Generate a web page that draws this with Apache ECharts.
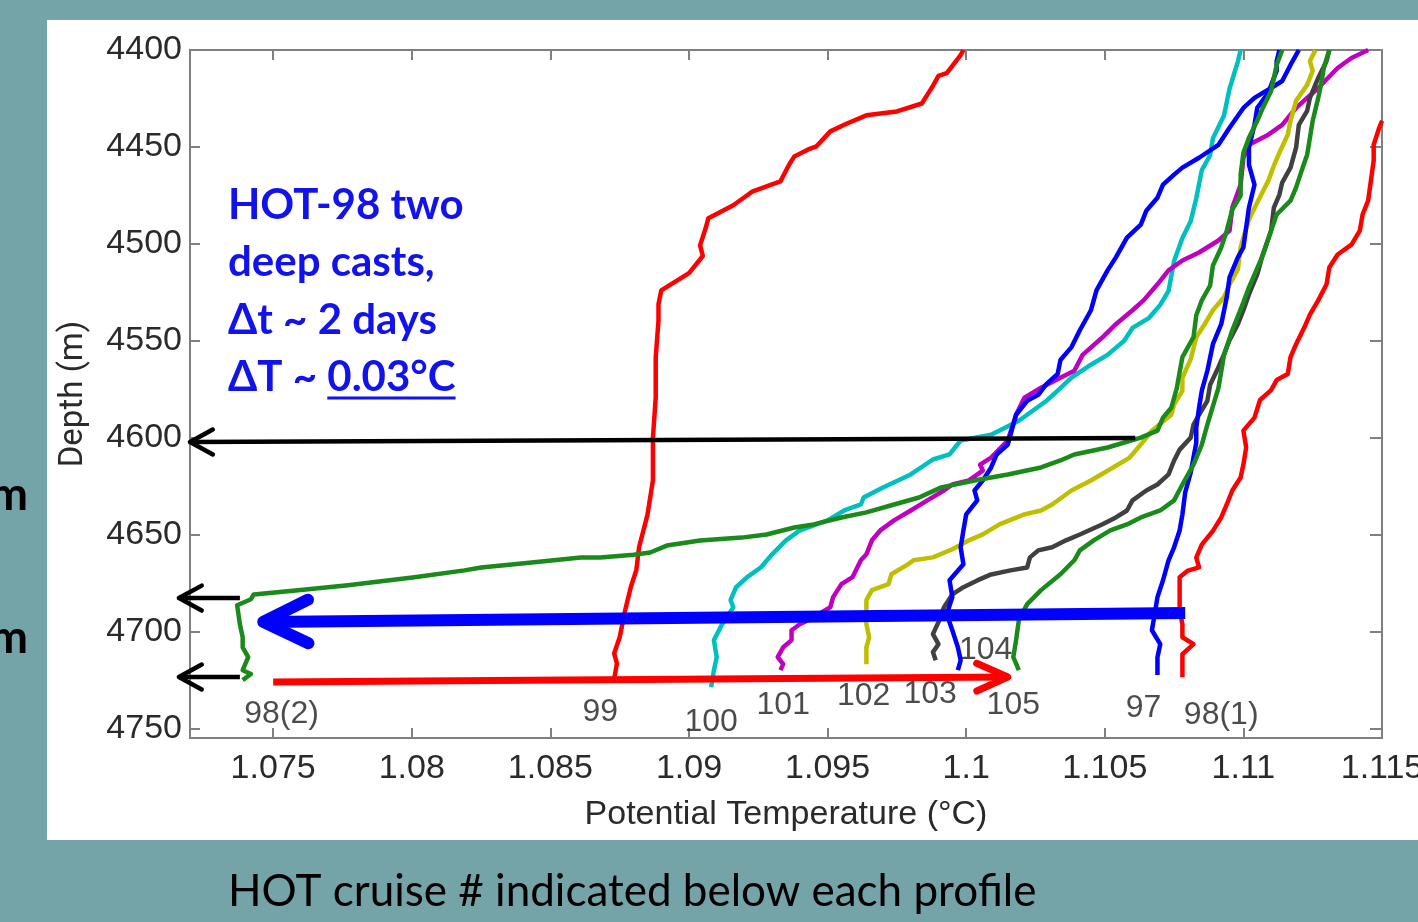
<!DOCTYPE html>
<html>
<head>
<meta charset="utf-8">
<script src="https://cdn.jsdelivr.net/npm/echarts@6/dist/echarts.min.js"></script>
<style>
  html, body { margin: 0; padding: 0; background: #74A3A8; overflow: hidden; }
  #chart { width: 1418px; height: 922px; }
</style>
</head>
<body>
<div id="chart"></div>
<script>
// Axis ticks
const depthTicks = [4400, 4450, 4500, 4550, 4600, 4650, 4700, 4750];
const tempTicks = [1.075, 1.08, 1.085, 1.09, 1.095, 1.1, 1.105, 1.11, 1.115];

// Potential temperature (deg C) vs depth (m), one array per HOT cruise cast
const cast97 = [[1.1113,4400],[1.1112,4405.7],[1.1112,4410.8],[1.1111,4414.4],[1.1109,4422.1],[1.1105,4429.9],[1.1104,4438.6],[1.1102,4450.4],[1.1102,4459.2],[1.1104,4469.5],[1.1102,4481.3],[1.1101,4491.6],[1.1100,4501.9],[1.1098,4507],[1.1095,4517.3],[1.1094,4527.6],[1.1092,4541.5],[1.1089,4551.8],[1.1087,4565.5],[1.1085,4575.8],[1.1084,4584.6],[1.1083,4594.9],[1.1083,4602.6],[1.1082,4610.3],[1.1081,4618],[1.1079,4628.3],[1.1078,4639.6],[1.1077,4647.9],[1.1075,4656.6],[1.1073,4663.3],[1.1071,4673.6],[1.1069,4682.3],[1.1068,4691.1],[1.1067,4699.4],[1.1070,4706.6],[1.1069,4713.3],[1.1069,4722.5]];

const cast98a = [[1.1150,4436.5],[1.1149,4440.1],[1.1147,4448.9],[1.1147,4457.1],[1.1146,4467.4],[1.1145,4477.7],[1.1143,4484.9],[1.1142,4493.2],[1.1139,4500.4],[1.1134,4505.5],[1.1131,4512.2],[1.1130,4520.9],[1.1127,4529.2],[1.1124,4536.5],[1.1122,4543.1],[1.1119,4551.8],[1.1117,4558.5],[1.1116,4567.2],[1.1112,4570.3],[1.1110,4575.5],[1.1106,4580.6],[1.1104,4589.7],[1.1100,4596.4],[1.1101,4605.1],[1.1100,4613.9],[1.1099,4620.6],[1.1096,4627.3],[1.1094,4634.5],[1.1092,4641.2],[1.1089,4648.1],[1.1085,4655.2],[1.1083,4661.9],[1.1084,4667],[1.1080,4668.6],[1.1077,4672.1],[1.1077,4682.3],[1.1077,4689],[1.1078,4696.3],[1.1078,4703],[1.1082,4706.6],[1.1078,4711.8],[1.1078,4716.9],[1.1078,4723.6]];

const cast98b = [[1.1114,4400],[1.1112,4407.7],[1.1111,4414.4],[1.1110,4421.1],[1.1107,4429.9],[1.1105,4436.5],[1.1102,4445.3],[1.1100,4453],[1.1099,4464.3],[1.1099,4475.1],[1.1096,4482.3],[1.1094,4493.2],[1.1092,4501.9],[1.1089,4511.2],[1.1088,4521.5],[1.1085,4529.2],[1.1083,4536.9],[1.1082,4548.2],[1.1078,4558.5],[1.1077,4566.2],[1.1076,4574.3],[1.1074,4584.6],[1.1071,4589.7],[1.1069,4596.4],[1.1063,4600],[1.1051,4605.1],[1.1039,4608.7],[1.1034,4611.8],[1.1027,4615.4],[1.1015,4619],[1.1003,4622.1],[1.0991,4625.7],[1.0983,4630.9],[1.0974,4634.5],[1.0964,4638.6],[1.0955,4641.2],[1.0945,4644.8],[1.0938,4646.4],[1.0928,4650],[1.0919,4651.6],[1.0904,4653.1],[1.0892,4655.7],[1.0886,4659.3],[1.0880,4660.4],[1.0868,4661.9],[1.0861,4661.9],[1.0837,4665.4],[1.0825,4667],[1.0819,4668.5],[1.0801,4672.1],[1.0777,4676.2],[1.0759,4678.8],[1.0743,4680.9],[1.0742,4683.4],[1.0737,4686.5],[1.0738,4696.3],[1.0739,4703],[1.0739,4708.2],[1.0741,4713.3],[1.0739,4720],[1.0742,4722],[1.0739,4725.1]];

const cast99 = [[1.0999,4400],[1.0998,4402.6],[1.0993,4411.9],[1.0990,4413.4],[1.0988,4418.5],[1.0984,4427.6],[1.0975,4431.7],[1.0964,4433.7],[1.0957,4437.9],[1.0951,4442],[1.0946,4449.7],[1.0943,4451.3],[1.0938,4454.9],[1.0936,4459.5],[1.0933,4467.8],[1.0923,4472.9],[1.0916,4480.1],[1.0907,4486.8],[1.0906,4492],[1.0904,4500.8],[1.0905,4506.3],[1.0900,4515.1],[1.0890,4524],[1.0889,4531.2],[1.0889,4539.5],[1.0888,4558.8],[1.0888,4579.4],[1.0887,4600],[1.0887,4622],[1.0885,4640],[1.0882,4656.6],[1.0881,4668.4],[1.0879,4677.2],[1.0877,4689],[1.0875,4703],[1.0873,4711.4],[1.0874,4716.5],[1.0873,4724.8]];

const cast100 = [[1.1099,4400],[1.1098,4406],[1.1095,4420],[1.1093,4433.8],[1.1089,4445.6],[1.1088,4454.3],[1.1085,4462],[1.1083,4476.5],[1.1081,4488.3],[1.1078,4497],[1.1075,4508.9],[1.1073,4524.3],[1.1070,4531.5],[1.1066,4538.2],[1.1060,4543.4],[1.1057,4550],[1.1051,4557.3],[1.1045,4562.4],[1.1038,4569.1],[1.1033,4575.8],[1.1029,4581],[1.1019,4591.3],[1.1009,4598.5],[1.0998,4601.5],[1.0994,4608.7],[1.0988,4611.3],[1.0980,4619],[1.0970,4625.7],[1.0963,4630.9],[1.0962,4634.5],[1.0956,4637.6],[1.0950,4642.7],[1.0940,4647.9],[1.0935,4653],[1.0930,4660.2],[1.0926,4666.9],[1.0921,4672],[1.0917,4677.2],[1.0915,4683.9],[1.0916,4687.5],[1.0912,4696.2],[1.0909,4704.5],[1.0910,4713.3],[1.0909,4720],[1.0908,4728.7]];

const cast101 = [[1.1145,4400],[1.1139,4404.1],[1.1134,4409.3],[1.1127,4419.6],[1.1119,4429.9],[1.1114,4438.6],[1.1109,4443.7],[1.1102,4448.9],[1.1100,4455.6],[1.1099,4469.5],[1.1096,4481.3],[1.1095,4493.2],[1.1091,4498.3],[1.1084,4504.5],[1.1078,4508.6],[1.1073,4513.7],[1.1069,4520.9],[1.1064,4529.2],[1.1060,4534.3],[1.1054,4541.5],[1.1049,4548.5],[1.1042,4557.3],[1.1039,4565.5],[1.1034,4569.1],[1.1027,4574.3],[1.1021,4579.4],[1.1018,4588.2],[1.1015,4601.5],[1.1009,4610.3],[1.1005,4613.9],[1.1006,4617],[1.1001,4622.1],[1.0995,4624.2],[1.0992,4627.3],[1.0986,4632.4],[1.0980,4637.6],[1.0974,4642.7],[1.0969,4647.9],[1.0966,4653],[1.0964,4660.2],[1.0962,4663.3],[1.0959,4672],[1.0955,4675.6],[1.0952,4682.3],[1.0951,4687.5],[1.0945,4692.7],[1.0940,4696.3],[1.0937,4699.4],[1.0937,4704.6],[1.0934,4708.2],[1.0932,4713.3],[1.0934,4716.9],[1.0933,4720]];

const cast102 = [[1.1126,4400],[1.1124,4405.7],[1.1125,4410.8],[1.1123,4418],[1.1119,4426.2],[1.1117,4436.5],[1.1116,4443.7],[1.1113,4453],[1.1111,4459.7],[1.1109,4467.4],[1.1105,4478.7],[1.1102,4487.5],[1.1100,4496.8],[1.1099,4501.9],[1.1098,4513.2],[1.1095,4520.9],[1.1093,4527.6],[1.1089,4534.3],[1.1086,4541.5],[1.1083,4548.2],[1.1081,4559.5],[1.1078,4569.1],[1.1078,4575.8],[1.1075,4583],[1.1074,4588.2],[1.1067,4596.4],[1.1063,4603.6],[1.1059,4610.3],[1.1053,4615.4],[1.1045,4622.1],[1.1038,4627.3],[1.1031,4634.5],[1.1027,4637.6],[1.1021,4639.6],[1.1012,4644.8],[1.1006,4649.9],[1.1001,4653],[1.0995,4657.6],[1.0988,4661.8],[1.0981,4663.3],[1.0979,4665.4],[1.0973,4670.5],[1.0972,4675.6],[1.0966,4678.7],[1.0964,4683.9],[1.0964,4696.3],[1.0965,4703],[1.0964,4708.2],[1.0964,4716.9]];

const cast103 = [[1.1131,4400],[1.1130,4405.7],[1.1127,4414.4],[1.1124,4424.7],[1.1123,4431.4],[1.1120,4438.6],[1.1119,4450.4],[1.1117,4460.7],[1.1114,4468.4],[1.1113,4474.6],[1.1111,4481.3],[1.1110,4493.2],[1.1107,4505.5],[1.1105,4515.8],[1.1102,4526.1],[1.1100,4534.3],[1.1098,4541.5],[1.1095,4549.7],[1.1093,4557],[1.1091,4563.7],[1.1088,4572.7],[1.1087,4581],[1.1084,4588.2],[1.1082,4593.3],[1.1081,4600],[1.1077,4606.2],[1.1075,4611.8],[1.1073,4619],[1.1069,4624.2],[1.1065,4627.3],[1.1060,4632.4],[1.1058,4637.6],[1.1054,4641.2],[1.1049,4644.8],[1.1041,4650],[1.1036,4653],[1.1031,4656.6],[1.1026,4658.2],[1.1023,4661.8],[1.1022,4667],[1.1016,4668.5],[1.1009,4670.6],[1.1004,4673.7],[1.0999,4677.2],[1.0995,4680.9],[1.0992,4687.5],[1.0990,4695.2],[1.0988,4701.4],[1.0990,4706.6],[1.0988,4710.7],[1.0989,4714.9]];

const cast104 = [[1.1120,4400],[1.1117,4407.7],[1.1114,4416],[1.1110,4419.6],[1.1104,4424.7],[1.1100,4429.9],[1.1095,4440.1],[1.1091,4448.9],[1.1084,4455.6],[1.1078,4460.7],[1.1075,4464.3],[1.1071,4469.5],[1.1069,4476.2],[1.1065,4482.9],[1.1063,4490.1],[1.1058,4496.8],[1.1054,4507],[1.1051,4513.7],[1.1047,4524],[1.1045,4534.3],[1.1041,4544.6],[1.1038,4553.3],[1.1034,4560],[1.1033,4567.2],[1.1029,4572.3],[1.1026,4577.9],[1.1022,4581],[1.1018,4588.2],[1.1016,4598.5],[1.1015,4603.6],[1.1011,4608.7],[1.1009,4615.4],[1.1006,4622.1],[1.1003,4627.3],[1.1004,4632.4],[1.1000,4639.6],[1.0999,4647.9],[1.0998,4656.6],[1.0999,4665.4],[1.0994,4673.6],[1.0995,4682.3],[1.0993,4691.1],[1.0995,4699.4],[1.0997,4708.2],[1.0998,4714.9],[1.0997,4720]];

const cast105 = [[1.1131,4400],[1.1129,4409.3],[1.1128,4418],[1.1127,4424.7],[1.1125,4436.5],[1.1124,4445.3],[1.1123,4454],[1.1121,4462.3],[1.1119,4471],[1.1117,4477.7],[1.1112,4484.9],[1.1110,4493.2],[1.1107,4506],[1.1102,4522.5],[1.1100,4530.2],[1.1096,4544.6],[1.1093,4557.5],[1.1091,4574.3],[1.1087,4593.3],[1.1085,4603.6],[1.1082,4613.9],[1.1078,4624.2],[1.1075,4632.4],[1.1070,4637.6],[1.1063,4641.2],[1.1058,4644.8],[1.1052,4647.9],[1.1046,4653],[1.1041,4658.2],[1.1039,4663.3],[1.1034,4670.5],[1.1027,4678.7],[1.1022,4685.9],[1.1019,4694.1],[1.1018,4704.5],[1.1017,4713.3],[1.1019,4720]];

// Cruise labels placed under each profile
const cruiseNames = ['98(2)', '99', '100', '101', '102', '103', '104', '105', '97', '98(1)'];
const cruiseLabelAt = [[1.0753,4742.6],[1.0868,4741.6],[1.0908,4746.7],[1.0934,4738],[1.0963,4733.3],[1.0987,4732.3],[1.1007,4709.6],[1.1017,4738],[1.1064,4739.5],[1.1092,4743.1]];

// Arrows: [fromTemp, fromDepth, toTemp, toDepth] (head at the "to" end)
const arrowTo4600 = [[1.1061, 4600.2, 1.0720, 4602.3]];
const arrowsBottom = [[1.0738, 4682.8, 1.0716, 4682.8], [1.0738, 4723.5, 1.0716, 4723.5]];
const arrowCast1 = [[1.1079, 4690.5, 1.07464, 4695.1]];
const arrowCast2 = [[1.0750, 4726.1, 1.1015, 4723.5]];

const chart = echarts.init(document.getElementById('chart'), null, { renderer: 'canvas' });

const tickFont = 'Liberation Sans';

function profile(name, data, color) {
  return {
    type: 'line', name, data, symbol: 'none', showSymbol: false,
    lineStyle: { color, width: 4.5, join: 'round' }, z: 2, silent: true
  };
}

function arrow(data, color, width, headLen, spread) {
  return {
    type: 'custom', data, z: 5, silent: true, clip: false,
    renderItem(params, api) {
      const p1 = api.coord([api.value(0), api.value(1)]);
      const p2 = api.coord([api.value(2), api.value(3)]);
      const ang = Math.atan2(p2[1] - p1[1], p2[0] - p1[0]);
      const a1 = [p2[0] - headLen * Math.cos(ang - spread), p2[1] - headLen * Math.sin(ang - spread)];
      const a2 = [p2[0] - headLen * Math.cos(ang + spread), p2[1] - headLen * Math.sin(ang + spread)];
      return {
        type: 'group',
        children: [
          { type: 'line', shape: { x1: p1[0], y1: p1[1], x2: p2[0], y2: p2[1] },
            style: { stroke: color, lineWidth: width, lineCap: 'butt' } },
          { type: 'polyline', shape: { points: [a1, p2, a2] },
            style: { stroke: color, lineWidth: width, fill: null, lineCap: 'round', lineJoin: 'round' } }
        ]
      };
    }
  };
}

const fmtTemp = v => String(+(+v).toFixed(3));
const fmtDepth = v => String(Math.round(v));

// Width of the first part of the last note line, for the underline
const noteFont = 'bold 42px Lato';
const ctx = document.createElement('canvas').getContext('2d');
ctx.font = noteFont;
const preW = ctx.measureText('ΔT ~ ').width;
const numW = ctx.measureText('0.03°C').width;
const noteX = 228;
const noteColor = '#1212EC';

const option = {
  backgroundColor: '#74A3A8',
  animation: false,
  grid: { left: 190, right: 36, top: 50, bottom: 184, containLabel: false, outerBoundsMode: 'none' },
  xAxis: [
    {
      type: 'value', position: 'bottom', min: 1.072, max: 1.115,
      name: 'Potential Temperature (°C)', nameLocation: 'middle', nameGap: 60,
      nameTextStyle: { fontFamily: tickFont, fontSize: 34, color: '#2a2a2a' },
      axisLine: { show: true, onZero: false, lineStyle: { color: '#808080', width: 2 } },
      axisTick: { show: true, inside: true, length: 10, customValues: tempTicks, lineStyle: { color: '#808080', width: 2 } },
      axisLabel: { show: true, customValues: tempTicks, formatter: fmtTemp, margin: 14, hideOverlap: false,
        fontFamily: tickFont, fontSize: 34, color: '#2a2a2a' },
      splitLine: { show: false }
    },
    {
      type: 'value', position: 'top', min: 1.072, max: 1.115,
      axisLine: { show: true, onZero: false, lineStyle: { color: '#808080', width: 2 } },
      axisTick: { show: true, inside: true, length: 10, customValues: tempTicks, lineStyle: { color: '#808080', width: 2 } },
      axisLabel: { show: false },
      splitLine: { show: false }
    }
  ],
  yAxis: [
    {
      type: 'value', position: 'left', inverse: true, min: 4400, max: 4755,
      name: 'Depth (m)', nameLocation: 'middle', nameGap: 100, nameRotate: 90,
      nameTextStyle: { fontFamily: 'Roboto', fontSize: 33, color: '#2a2a2a' },
      axisLine: { show: true, onZero: false, lineStyle: { color: '#808080', width: 2 } },
      axisTick: { show: true, inside: true, length: 10, customValues: depthTicks, lineStyle: { color: '#808080', width: 2 } },
      axisLabel: { show: true, customValues: depthTicks, formatter: fmtDepth, margin: 8,
        fontFamily: tickFont, fontSize: 34, color: '#2a2a2a' },
      splitLine: { show: false }
    },
    {
      type: 'value', position: 'right', inverse: true, min: 4400, max: 4755,
      axisLine: { show: true, onZero: false, lineStyle: { color: '#808080', width: 2 } },
      axisTick: { show: true, inside: true, length: 12, customValues: depthTicks, lineStyle: { color: '#808080', width: 2 } },
      axisLabel: { show: false },
      splitLine: { show: false }
    }
  ],
  graphic: [
    { type: 'rect', z: -10, silent: true, shape: { x: 47, y: 20, width: 1371, height: 820 }, style: { fill: '#ffffff' } },
    { type: 'text', z: 10, silent: true, style: { text: 'HOT-98 two', x: noteX, y: 205, font: noteFont, fill: noteColor, textVerticalAlign: 'middle', verticalAlign: 'middle' } },
    { type: 'text', z: 10, silent: true, style: { text: 'deep casts,', x: noteX, y: 262, font: noteFont, fill: noteColor, textVerticalAlign: 'middle', verticalAlign: 'middle' } },
    { type: 'text', z: 10, silent: true, style: { text: 'Δt ~ 2 days', x: noteX, y: 320, font: noteFont, fill: noteColor, textVerticalAlign: 'middle', verticalAlign: 'middle' } },
    { type: 'text', z: 10, silent: true, style: { text: 'ΔT ~ 0.03°C', x: noteX, y: 377, font: noteFont, fill: noteColor, textVerticalAlign: 'middle', verticalAlign: 'middle' } },
    { type: 'line', z: 10, silent: true, shape: { x1: noteX + preW, y1: 398, x2: noteX + preW + numW, y2: 398 }, style: { stroke: noteColor, lineWidth: 3 } },
    { type: 'text', z: 10, silent: true, style: { text: 'HOT cruise # indicated below each profile', x: 228, y: 892, font: '44px Lato', fill: '#000000', textVerticalAlign: 'middle', verticalAlign: 'middle' } },
    { type: 'text', z: 10, silent: true, style: { text: 'm', x: 28, y: 495, font: 'bold 46px Lato', fill: '#000000', textAlign: 'right', align: 'right', textVerticalAlign: 'middle', verticalAlign: 'middle' } },
    { type: 'text', z: 10, silent: true, style: { text: 'm', x: 28, y: 638, font: 'bold 46px Lato', fill: '#000000', textAlign: 'right', align: 'right', textVerticalAlign: 'middle', verticalAlign: 'middle' } }
  ],
  series: [
    profile('99', cast99, '#FF0000'),
    profile('98(1)', cast98a, '#FF0000'),
    profile('100', cast100, '#00BFBF'),
    profile('101', cast101, '#BF00BF'),
    profile('102', cast102, '#BFBF00'),
    profile('103', cast103, '#404040'),
    profile('104', cast104, '#0000FF'),
    profile('97', cast97, '#0000FF'),
    profile('105', cast105, '#1A8A1A'),
    profile('98(2)', cast98b, '#1A8A1A'),
    arrow(arrowTo4600, '#000000', 4.5, 26, 0.5),
    arrow(arrowsBottom, '#000000', 4.5, 26, 0.5),
    arrow(arrowCast1, '#0000FF', 12, 50, 0.45),
    arrow(arrowCast2, '#FF0000', 7, 34, 0.42),
    {
      type: 'scatter', z: 6, silent: true, symbolSize: 0,
      data: cruiseNames.map((n, i) => ({ name: n, value: cruiseLabelAt[i] })),
      label: { show: true, position: 'inside', formatter: p => p.name,
        fontFamily: tickFont, fontSize: 32, color: '#1e1e1e' }
    }
  ]
};

chart.setOption(option);
</script>
</body>
</html>
